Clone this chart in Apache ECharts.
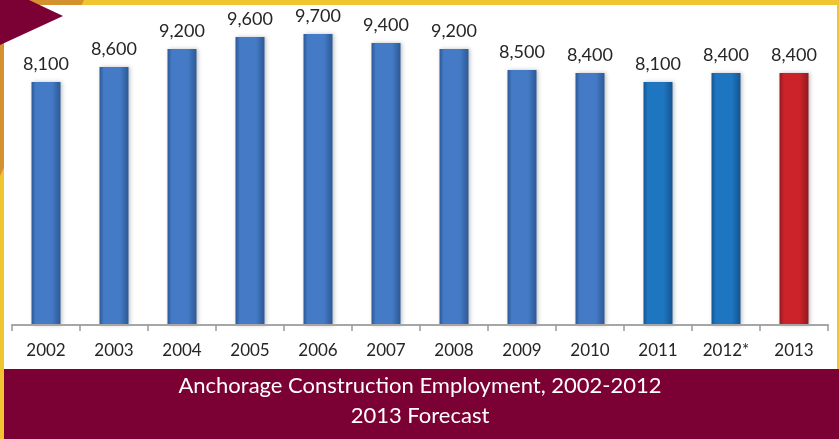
<!DOCTYPE html>
<html><head><meta charset="utf-8">
<script src="https://cdn.jsdelivr.net/npm/echarts@6/dist/echarts.min.js"></script>
<style>html,body{margin:0;padding:0;background:#F0C531;}#c{width:839px;height:439px;}</style>
</head><body><div id="c"></div>
<script>
var categories = ['2002','2003','2004','2005','2006','2007','2008','2009','2010','2011','2012*','2013'];
var employment = [8100, 8600, 9200, 9600, 9700, 9400, 9200, 8500, 8400, 8100, 8400, 8400];
var titleLines = ['Anchorage Construction Employment, 2002-2012', '2013 Forecast'];

function grad(edge, mid) {
  return new echarts.graphic.LinearGradient(0, 0, 1, 0, [
    {offset: 0, color: edge}, {offset: 0.15, color: mid}, {offset: 0.7, color: mid}, {offset: 1, color: edge}
  ]);
}
var styleOld = grad('#2C5896', '#457BC6');
var styleNew = grad('#15558F', '#1E76C0');
var styleRed = grad('#8F1A1F', '#CC2229');

var chart = echarts.init(document.getElementById('c'));
chart.setOption({
  animation: false,
  backgroundColor: '#F0C531',
  graphic: [
    {type: 'polygon', z: -10, shape: {points: [[0,0],[84,0],[0,176]]}, style: {fill: '#D4912E'}},
    {type: 'rect', z: -9, shape: {x: 4, y: 5, width: 833, height: 364}, style: {fill: '#FFFFFF'}},
    {type: 'rect', z: -9, shape: {x: 4, y: 369, width: 835, height: 70}, style: {fill: '#7B0033'}},
    {type: 'polygon', z: -8, shape: {points: [[0,0],[29,0],[63,16],[0,45]]}, style: {fill: '#7B0033'}},
    {type: 'text', z: 50, x: 420, y: 371, style: {
      text: titleLines.join('\n'), fill: '#FFFFFF', font: '22px Lato', lineHeight: 30, align: 'center', verticalAlign: 'top'
    }}
  ],
  grid: {left: 12, right: 11, top: 25, bottom: 114},
  xAxis: {
    type: 'category', data: categories, z: 20,
    axisLine: {lineStyle: {color: '#A6A6A6', width: 2}},
    axisTick: {show: true, length: 6, lineStyle: {color: '#999999', width: 1.5}},
    axisLabel: {color: '#262626', fontFamily: 'Lato', fontSize: 17, margin: 17}
  },
  yAxis: {type: 'value', min: 0, max: 10000, show: false, splitLine: {show: false}},
  series: [{
    type: 'bar', barWidth: 29, z: 10,
    data: employment.map(function (v, i) {
      var s = i < 9 ? styleOld : (i < 11 ? styleNew : styleRed);
      return {value: v, itemStyle: {color: s}};
    }),
    itemStyle: {shadowColor: 'rgba(0,0,0,0.25)', shadowBlur: 4, shadowOffsetX: 1},
    label: {
      show: true, position: 'top', distance: 9, color: '#262626', fontFamily: 'Lato', fontSize: 18,
      formatter: function (p) { return p.value.toLocaleString('en-US'); }
    }
  }]
});
</script></body></html>
